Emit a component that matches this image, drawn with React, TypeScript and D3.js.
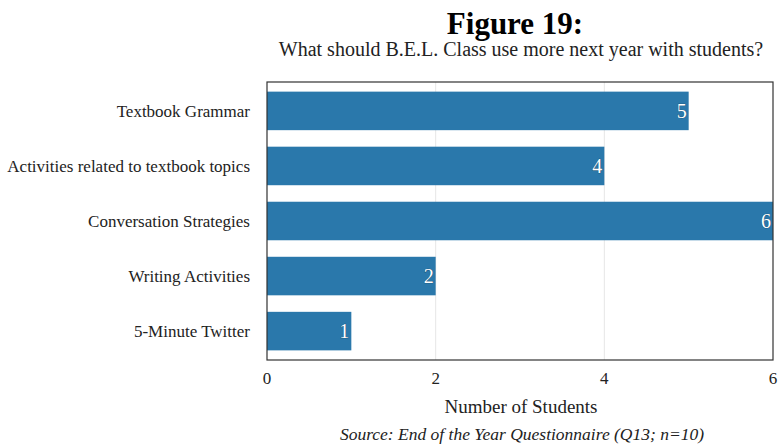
import React from "react";
import * as d3 from "d3";

const categories = [
  "Textbook Grammar",
  "Activities related to textbook topics",
  "Conversation Strategies",
  "Writing Activities",
  "5-Minute Twitter",
];
const values = [5, 4, 6, 2, 1];
const xTicks = [0, 2, 4, 6];
const titleText = "Figure 19:";
const subtitleText = "What should B.E.L. Class use more next year with students?";
const xAxisTitle = "Number of Students";
const sourceText = "Source: End of the Year Questionnaire (Q13; n=10)";

const W = 779;
const H = 446;
const plot = { left: 267, right: 773, top: 82, bottom: 360 };
const FONT = "'Liberation Serif', 'Times New Roman', serif";
const BAR = "#2a78ab";

export default function App() {
  const x = d3.scaleLinear().domain([0, 6]).range([plot.left, plot.right]);
  const y = d3
    .scaleBand<string>()
    .domain(categories)
    .range([plot.top, plot.bottom])
    .paddingInner(0.3)
    .paddingOuter(0.175);

  return (
    <svg
      width={W}
      height={H}
      style={{ position: "absolute", left: 0, top: 0, background: "#fff" }}
      fontFamily={FONT}
    >
      <rect x={0} y={0} width={W} height={H} fill="#fff" />
      <text x={515} y={34} textAnchor="middle" fontSize={31} fontWeight="bold" fill="#000">
        {titleText}
      </text>
      <text x={521} y={56} textAnchor="middle" fontSize={20} fill="#222">
        {subtitleText}
      </text>

      {xTicks
        .filter((t) => t > 0 && t < 6)
        .map((t) => (
          <line
            key={"g" + t}
            x1={x(t)}
            x2={x(t)}
            y1={plot.top}
            y2={plot.bottom}
            stroke="#e6e6e6"
            strokeWidth={1}
          />
        ))}

      {categories.map((c, i) => (
        <g key={c}>
          <rect
            x={x(0)}
            y={y(c)}
            width={x(values[i]) - x(0)}
            height={y.bandwidth()}
            fill={BAR}
          />
          <text
            x={x(values[i]) - 2}
            y={(y(c) as number) + y.bandwidth() / 2 + 7}
            textAnchor="end"
            fontSize={20}
            fill="#fff"
            stroke="#1a4a6a"
            strokeWidth={0.6}
            paintOrder="stroke"
          >
            {values[i]}
          </text>
          <text
            x={250}
            y={(y(c) as number) + y.bandwidth() / 2 + 6}
            textAnchor="end"
            fontSize={17}
            fill="#222"
          >
            {c}
          </text>
        </g>
      ))}

      <rect
        x={plot.left}
        y={plot.top}
        width={plot.right - plot.left}
        height={plot.bottom - plot.top}
        fill="none"
        stroke="#333"
        strokeWidth={1.2}
      />

      {xTicks.map((t) => (
        <text key={"t" + t} x={x(t)} y={384} textAnchor="middle" fontSize={17} fill="#222">
          {t}
        </text>
      ))}
      <text x={521} y={413} textAnchor="middle" fontSize={19} fill="#222">
        {xAxisTitle}
      </text>
      <text x={522} y={440} textAnchor="middle" fontSize={17.5} fontStyle="italic" fill="#222">
        {sourceText}
      </text>
    </svg>
  );
}
